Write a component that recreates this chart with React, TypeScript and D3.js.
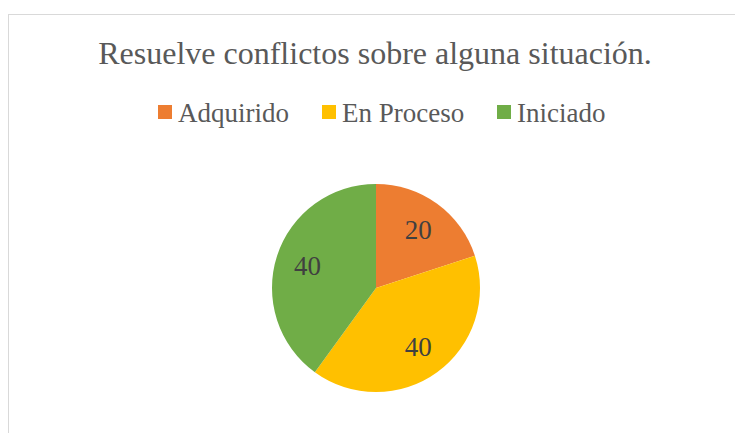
import * as d3 from 'd3';

const categories = ['Adquirido', 'En Proceso', 'Iniciado'];
const values = [20, 40, 40];
const colors = ['#ED7D31', '#FFC000', '#70AD47'];
const title = 'Resuelve conflictos sobre alguna situación.';

const width = 735;
const height = 433;
const font = '"Liberation Serif", "Times New Roman", Times, serif';

const cx = 376;
const cy = 288;
const radius = 104;
const legendX = [158, 322, 497];

const App = () => {
  const pie = d3.pie<number>().sort(null);
  const arcs = pie(values);
  const arc = d3.arc<d3.PieArcDatum<number>>().innerRadius(0).outerRadius(radius);
  const labelArc = d3.arc<d3.PieArcDatum<number>>().innerRadius(72).outerRadius(72);

  return (
    <div style={{ position: 'absolute', left: 0, top: 0 }}>
      <svg width={width} height={height} style={{ display: 'block', fontFamily: font }}>
        <rect x={8.5} y={14.5} width={740} height={440} fill="#fff" stroke="#d9d9d9" />

        <text x={375} y={64} textAnchor="middle" fontSize={32} fill="#595959">
          {title}
        </text>

        {/* legend */}
        {categories.map((c, i) => (
          <g key={c} transform={`translate(${legendX[i]}, 105)`}>
            <rect width={14} height={14} fill={colors[i]} />
            <text x={20} y={17} fontSize={27} fill="#595959">{c}</text>
          </g>
        ))}

        {/* pie */}
        <g transform={`translate(${cx}, ${cy})`}>
          {arcs.map((d, i) => (
            <path key={i} d={arc(d) || ''} fill={colors[i]} />
          ))}
          {arcs.map((d, i) => {
            const [x, y] = labelArc.centroid(d);
            return (
              <text key={'l' + i} x={x} y={y} dy="0.35em" textAnchor="middle" fontSize={27} fill="#404040">
                {d.data}
              </text>
            );
          })}
        </g>
      </svg>
    </div>
  );
};

export default App;
